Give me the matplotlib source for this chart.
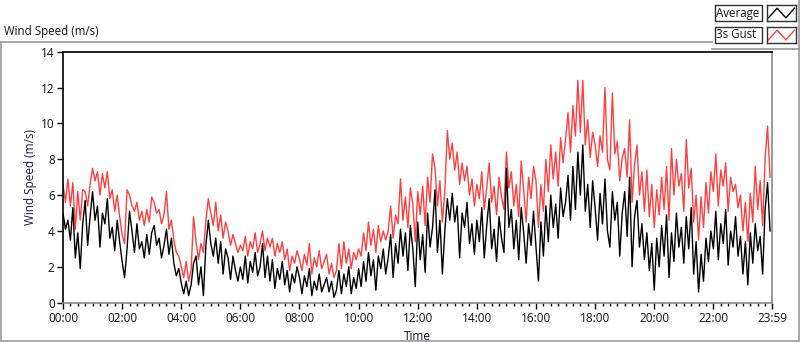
import numpy as np
import matplotlib
matplotlib.use("Agg")
import matplotlib.pyplot as plt
from matplotlib.lines import Line2D
from matplotlib.patches import Rectangle

# ---------------- data (5-minute samples) ----------------
avg_speed = [
    5.0, 4.1, 4.6, 3.5, 5.3, 2.5, 3.9, 1.9, 4.4, 5.7, 3.2, 4.8,   # 00
    6.2, 4.6, 5.4, 3.1, 5.0, 4.4, 5.8, 3.6, 4.2, 2.9, 4.6, 3.4,   # 01
    2.3, 1.4, 3.0, 5.1, 4.0, 2.8, 4.4, 3.0, 3.4, 2.5, 3.8, 2.7,   # 02
    3.9, 4.3, 3.2, 3.6, 2.5, 3.2, 4.1, 2.7, 3.6, 2.2, 1.5, 1.9,   # 03
    1.1, 0.5, 1.2, 0.4, 1.0, 2.2, 2.6, 1.0, 2.0, 0.4, 3.2, 4.6,   # 04
    3.3, 2.6, 3.6, 2.2, 3.4, 1.6, 3.0, 2.5, 1.3, 2.6, 1.8, 1.2,   # 05
    2.0, 1.3, 2.6, 1.1, 2.3, 1.7, 2.8, 1.5, 2.0, 3.3, 1.4, 2.6,   # 06
    1.2, 2.4, 0.8, 1.9, 1.3, 2.3, 1.0, 1.8, 0.6, 1.6, 1.1, 2.0,   # 07
    1.4, 0.5, 1.5, 0.9, 1.9, 0.4, 1.2, 0.7, 1.6, 0.6, 1.0, 1.4,   # 08
    0.6, 1.2, 0.3, 0.7, 1.8, 0.5, 1.6, 0.9, 2.0, 0.5, 1.4, 0.8,   # 09
    1.9, 0.9, 2.3, 1.2, 2.8, 1.5, 2.4, 0.7, 2.6, 1.9, 3.0, 1.6,   # 10
    2.5, 3.8, 1.4, 3.3, 2.2, 4.1, 2.6, 3.9, 1.8, 4.3, 3.0, 0.9,   # 11
    4.5, 2.4, 3.8, 1.7, 5.0, 3.1, 4.2, 6.3, 2.8, 4.6, 1.6, 4.0,   # 12
    5.8, 4.6, 6.1, 4.5, 5.4, 2.5, 5.0, 4.2, 5.6, 3.3, 4.4, 2.7,   # 13
    4.6, 3.4, 5.3, 2.5, 4.3, 5.8, 3.0, 4.1, 2.3, 4.8, 3.6, 2.8,   # 14
    7.5, 4.2, 5.2, 3.0, 4.6, 2.4, 5.3, 3.9, 2.2, 4.4, 3.2, 5.1,   # 15
    3.1, 1.2, 4.5, 2.6, 5.4, 3.4, 6.0, 4.2, 5.5, 3.6, 6.4, 4.8,   # 16
    5.6, 7.1, 4.6, 7.6, 5.2, 8.4, 6.0, 8.8, 5.1, 6.6, 4.2, 6.8,   # 17
    5.3, 3.5, 6.1, 4.4, 6.9, 4.0, 3.1, 6.2, 4.6, 5.6, 2.6, 5.0,   # 18
    6.2, 3.7, 7.0, 2.0, 4.8, 5.7, 3.1, 4.4, 2.4, 3.9, 1.8, 3.3,   # 19
    0.7, 3.6, 2.0, 4.3, 2.6, 4.9, 1.4, 3.9, 2.3, 5.0, 3.1, 4.2,   # 20
    2.2, 4.8, 3.0, 5.3, 1.6, 3.4, 0.6, 2.7, 1.2, 3.6, 2.3, 4.0,   # 21
    3.0, 5.1, 2.4, 4.4, 3.3, 5.2, 2.1, 4.0, 3.1, 4.8, 2.6, 3.7,   # 22
    1.6, 3.4, 1.0, 3.9, 2.2, 4.4, 2.9, 3.7, 1.6, 5.2, 6.7, 4.0,   # 23
]
gust_speed = [
    6.6, 5.6, 6.9, 5.4, 6.7, 4.1, 6.2, 4.6, 6.3, 6.2, 5.4, 6.6,   # 00
    7.5, 6.8, 7.3, 6.0, 7.2, 6.4, 7.3, 5.8, 6.3, 5.1, 6.0, 4.8,   # 01
    3.8, 3.3, 6.3, 6.0, 5.4, 5.1, 5.6, 4.6, 5.1, 4.3, 5.2, 4.5,   # 02
    5.9, 5.6, 5.0, 5.2, 4.4, 4.9, 6.2, 4.1, 4.6, 3.5, 2.8, 2.6,   # 03
    2.0, 1.4, 2.3, 1.2, 1.8, 4.8, 3.4, 2.4, 3.3, 2.8, 4.6, 5.8,   # 04
    5.0, 4.3, 5.6, 4.0, 4.9, 3.6, 4.5, 4.0, 3.2, 3.8, 3.3, 2.8,   # 05
    3.2, 2.9, 3.7, 2.6, 3.4, 3.0, 3.9, 2.8, 3.3, 4.0, 2.9, 3.6,   # 06
    3.1, 3.6, 2.6, 3.3, 2.8, 3.4, 2.4, 3.0, 1.8, 2.6, 2.2, 2.9,   # 07
    2.4, 1.8, 2.7, 2.1, 3.3, 1.6, 2.5, 2.0, 2.9, 1.9, 2.3, 2.7,   # 08
    1.6, 2.2, 1.4, 1.8, 3.3, 1.9, 3.4, 2.2, 3.0, 1.9, 2.8, 2.4,   # 09
    3.0, 2.6, 3.9, 2.9, 4.5, 3.2, 4.1, 2.8, 4.3, 3.4, 4.0, 3.5,   # 10
    4.0, 5.4, 3.6, 4.9, 4.4, 6.9, 4.6, 5.9, 4.2, 6.4, 5.5, 3.4,   # 11
    6.2, 4.9, 6.5, 4.3, 7.0, 5.6, 8.3, 7.5, 5.4, 6.8, 4.5, 6.2,   # 12
    9.6, 8.0, 8.9, 7.4, 8.4, 6.6, 7.8, 6.8, 7.6, 6.0, 6.9, 5.4,   # 13
    6.6, 5.8, 7.3, 5.2, 6.4, 7.8, 5.6, 6.5, 4.9, 7.0, 5.9, 5.2,   # 14
    8.4, 6.4, 7.3, 5.4, 6.6, 4.8, 7.9, 6.3, 4.5, 7.0, 5.8, 7.6,   # 15
    6.8, 4.2, 6.6, 5.1, 8.0, 6.2, 8.8, 6.9, 8.4, 6.5, 9.2, 7.8,   # 16
    9.1, 10.6, 8.4, 11.0, 9.3, 12.4, 9.5, 12.4, 8.8, 10.2, 8.1, 9.5,  # 17
    8.8, 7.6, 9.3, 8.4, 12.0, 8.0, 7.4, 11.7, 8.3, 9.0, 6.8, 8.1,  # 18
    8.6, 7.0, 10.2, 5.6, 7.7, 8.8, 6.0, 7.3, 5.1, 7.4, 4.8, 6.6,  # 19
    4.2, 6.3, 4.9, 7.0, 5.2, 7.6, 4.6, 8.6, 6.0, 8.0, 6.5, 7.2,   # 20
    5.1, 9.1, 6.4, 7.5, 4.5, 6.0, 3.5, 5.9, 4.2, 6.7, 5.0, 7.3,   # 21
    6.2, 8.3, 5.4, 7.4, 6.5, 7.8, 5.1, 7.0, 6.2, 6.6, 5.3, 6.0,   # 22
    4.0, 5.6, 3.4, 6.1, 4.5, 7.6, 5.2, 6.8, 4.3, 8.0, 9.85, 7.0,  # 23
]
sample_step_min = 5
xtick_minutes = [0, 120, 240, 360, 480, 600, 720, 840, 960, 1080, 1200, 1320, 1439]
xtick_labels = ["00:00", "02:00", "04:00", "06:00", "08:00", "10:00", "12:00",
                "14:00", "16:00", "18:00", "20:00", "22:00", "23:59"]
ytick_values = [0, 2, 4, 6, 8, 10, 12, 14]
series_names = ["Average", "3s Gust"]
series_colors = ["#000000", "#ff3f3f"]

minutes = np.arange(len(avg_speed)) * sample_step_min

# ---------------- figure ----------------
FONT = ["Open Sans", "DejaVu Sans"]
plt.rcParams['font.family'] = FONT
W, H = 800, 342
fig = plt.figure(figsize=(W / 100, H / 100), dpi=100)
fig.patch.set_facecolor("white")

def fx(px):
    return px / W

def fy(py):
    return 1 - py / H

ax = fig.add_axes([fx(63), fy(302.7), fx(772) - fx(63), fy(51.7) - fy(302.7)])
ax.plot(minutes, gust_speed, color=series_colors[1], lw=1.0, zorder=2)
ax.plot(minutes, avg_speed, color=series_colors[0], lw=1.0, zorder=3)
ax.set_xlim(0, 1439)
ax.set_ylim(0, 14)

txt_color = "#101020"
ax.set_yticks(ytick_values)
ax.set_yticklabels([str(v) for v in ytick_values], fontsize=8.5, color=txt_color)
ax.set_xticks(xtick_minutes)
ax.set_xticklabels(xtick_labels, fontsize=8.5, color=txt_color)
ax.set_xticks(np.arange(0, 1439, 15), minor=True)
ax.tick_params(axis='x', which='major', length=4.5, width=1, pad=2, color='black')
ax.tick_params(axis='x', which='minor', length=2.5, width=1, color='black')
ax.tick_params(axis='y', which='major', length=4, width=1, pad=2, color='black')
ax.set_xlabel("Time", fontsize=8.5, color=txt_color, labelpad=4)
ax.set_ylabel("Wind Speed (m/s)", fontsize=8.5, color="#1a1a3a", labelpad=3)

for s in ["left", "top"]:
    ax.spines[s].set_color("black")
    ax.spines[s].set_linewidth(1.2)
for s in ["right", "bottom"]:
    ax.spines[s].set_color("#8a8a8a")
    ax.spines[s].set_linewidth(1.2)

# chart title
fig.text(fx(4), fy(32), "Wind Speed (m/s)", fontsize=8.3, color=txt_color,
         ha="left", va="center")

# outer panel frame (LabVIEW-style)
frame_col = "#9a9a9a"
fig.add_artist(Line2D([fx(0), fx(712)], [fy(42), fy(42)], color=frame_col, lw=1.2))
fig.add_artist(Line2D([fx(1), fx(1)], [fy(42), fy(341)], color=frame_col, lw=1.2))
fig.add_artist(Line2D([fx(1), fx(799)], [fy(341), fy(341)], color=frame_col, lw=1.2))
fig.add_artist(Line2D([fx(799), fx(799)], [fy(0), fy(341)], color=frame_col, lw=1.2))
fig.add_artist(Line2D([fx(712), fx(799)], [fy(49), fy(49)], color=frame_col, lw=1.2))

# legend (custom LabVIEW plot legend)
rows = [(5, 21), (27, 43)]
for (y0, y1), name, col in zip(rows, series_names, series_colors):
    fig.add_artist(Rectangle((fx(715), fy(y1)), fx(762) - fx(715), fy(y0) - fy(y1),
                             facecolor="white", edgecolor="#303030", lw=1.0,
                             transform=fig.transFigure))
    fig.text(fx(716.5), fy((y0 + y1) / 2), name, fontsize=8.3, color=txt_color,
             ha="left", va="center")
    sax = fig.add_axes([fx(767), fy(y1), fx(796) - fx(767), fy(y0) - fy(y1)])
    sax.plot([0.05, 0.35, 0.65, 0.95], [0.2, 0.8, 0.2, 0.8], color=col, lw=1.0)
    sax.set_xlim(0, 1)
    sax.set_ylim(0, 1)
    sax.set_xticks([])
    sax.set_yticks([])
    for s in sax.spines.values():
        s.set_color("#303030")
        s.set_linewidth(1.0)

fig.savefig("out.png", dpi=100, facecolor="white")
